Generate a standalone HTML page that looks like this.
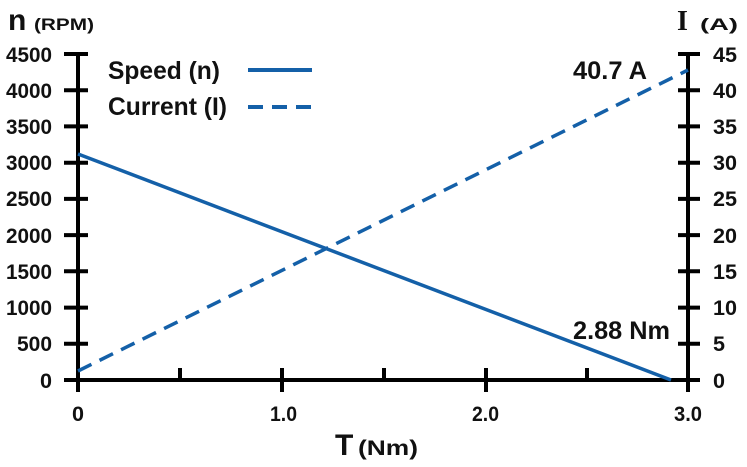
<!DOCTYPE html>
<html><head><meta charset="utf-8"><style>
body{margin:0;background:#fff}
svg{display:block}
text{font-family:"Liberation Sans",sans-serif;font-weight:bold;fill:#111}
</style></head><body>
<svg width="747" height="467" viewBox="0 0 747 467">
<g stroke="#000" stroke-width="4" fill="none">
<line x1="78" y1="53" x2="78" y2="392"/>
<line x1="688" y1="53" x2="688" y2="392"/>
<line x1="76" y1="380" x2="690" y2="380"/>
<path d="M64 54H88M64 90.2H88M64 126.4H88M64 162.7H88M64 198.9H88M64 235.1H88M64 271.3H88M64 307.6H88M64 343.8H88M64 380H88"/>
<path d="M678 54H700M678 90.2H700M678 126.4H700M678 162.7H700M678 198.9H700M678 235.1H700M678 271.3H700M678 307.6H700M678 343.8H700M678 380H700"/>
<path d="M180 368V380M282 368V392M384 368V380M486 368V392M587 368V380"/>
</g>
<g font-size="21" text-anchor="end">
<text x="52" y="62" textLength="46" lengthAdjust="spacingAndGlyphs">4500</text>
<text x="52" y="98" textLength="46" lengthAdjust="spacingAndGlyphs">4000</text>
<text x="52" y="134" textLength="46" lengthAdjust="spacingAndGlyphs">3500</text>
<text x="52" y="170" textLength="46" lengthAdjust="spacingAndGlyphs">3000</text>
<text x="52" y="206" textLength="46" lengthAdjust="spacingAndGlyphs">2500</text>
<text x="52" y="243" textLength="46" lengthAdjust="spacingAndGlyphs">2000</text>
<text x="52" y="279" textLength="46" lengthAdjust="spacingAndGlyphs">1500</text>
<text x="52" y="315" textLength="46" lengthAdjust="spacingAndGlyphs">1000</text>
<text x="52" y="351" textLength="35" lengthAdjust="spacingAndGlyphs">500</text>
<text x="52" y="388" textLength="12" lengthAdjust="spacingAndGlyphs">0</text>
</g>
<g font-size="21">
<text x="713" y="62" textLength="24" lengthAdjust="spacingAndGlyphs">45</text>
<text x="713" y="98" textLength="24" lengthAdjust="spacingAndGlyphs">40</text>
<text x="713" y="134" textLength="24" lengthAdjust="spacingAndGlyphs">35</text>
<text x="713" y="170" textLength="24" lengthAdjust="spacingAndGlyphs">30</text>
<text x="713" y="206" textLength="24" lengthAdjust="spacingAndGlyphs">25</text>
<text x="713" y="243" textLength="24" lengthAdjust="spacingAndGlyphs">20</text>
<text x="713" y="279" textLength="24" lengthAdjust="spacingAndGlyphs">15</text>
<text x="713" y="315" textLength="24" lengthAdjust="spacingAndGlyphs">10</text>
<text x="713" y="351" textLength="12" lengthAdjust="spacingAndGlyphs">5</text>
<text x="713" y="388" textLength="12" lengthAdjust="spacingAndGlyphs">0</text>
</g>
<g font-size="21">
<text x="72" y="421" textLength="12" lengthAdjust="spacingAndGlyphs">0</text>
<text x="270" y="421" textLength="27" lengthAdjust="spacingAndGlyphs">1.0</text>
<text x="472" y="421" textLength="27" lengthAdjust="spacingAndGlyphs">2.0</text>
<text x="674" y="421" textLength="28" lengthAdjust="spacingAndGlyphs">3.0</text>
</g>
<text x="8" y="30" font-size="30">n</text>
<text x="34" y="30" font-size="17" textLength="60" lengthAdjust="spacingAndGlyphs">(RPM)</text>
<text x="677" y="30" font-size="28" style="font-family:'Liberation Serif',serif">I</text>
<text x="700" y="30" font-size="17" textLength="38" lengthAdjust="spacingAndGlyphs">(A)</text>
<text x="335" y="455" font-size="30">T</text>
<text x="358" y="455" font-size="21" textLength="60" lengthAdjust="spacingAndGlyphs">(Nm)</text>
<text x="108" y="79" font-size="25" textLength="112" lengthAdjust="spacingAndGlyphs">Speed (n)</text>
<text x="108" y="115" font-size="25" textLength="119" lengthAdjust="spacingAndGlyphs">Current (I)</text>
<line x1="248" y1="70" x2="312" y2="70" stroke="#1460a8" stroke-width="4"/>
<line x1="248" y1="107" x2="312" y2="107" stroke="#1460a8" stroke-width="4" stroke-dasharray="15,9"/>
<text x="573" y="79" font-size="25" textLength="74" lengthAdjust="spacingAndGlyphs">40.7 A</text>
<text x="573" y="339" font-size="25" textLength="97" lengthAdjust="spacingAndGlyphs">2.88 Nm</text>
<line x1="78" y1="154" x2="671" y2="380" stroke="#1460a8" stroke-width="3.5"/>
<line x1="78" y1="371" x2="688" y2="70" stroke="#1460a8" stroke-width="3.5" stroke-dasharray="15,9"/>
</svg>
</body></html>
